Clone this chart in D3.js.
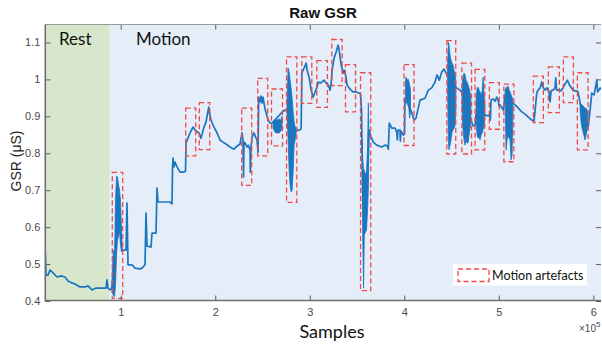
<!DOCTYPE html>
<html>
<head>
<meta charset="utf-8">
<script src="https://cdn.jsdelivr.net/npm/d3@7"></script>
<style>
  body { margin: 0; background: #ffffff; }
  svg { display: block; }
</style>
</head>
<body>
<svg id="chart" width="602" height="348"></svg>
<script>
// ---- data -------------------------------------------------------------
// Sample index where the resting baseline ends and the motion task starts
const restEnd = 88000;

// Raw skin-conductance trace: [sample, GSR in µS]
const trace = [
  [20300,0.530],[20950,0.470],[23060,0.470],[25180,0.484],[28350,0.476],[32590,0.465],
  [36820,0.468],[41050,0.465],[44220,0.454],[48460,0.449],[51630,0.446],[56920,0.438],
  [62210,0.438],[65380,0.441],[69620,0.430],[73850,0.435],[78080,0.435],[82310,0.435],
  [84430,0.435],[85490,0.457],[86550,0.435],[88660,0.430],[89720,0.432],
  [90780,0.440],[92150,0.470],[93420,0.450],[94480,0.550],[95540,0.630],[96600,0.650],
  [97650,0.640],[98710,0.640],[99770,0.600],[100830,0.560],
  [101360,0.538],[105590,0.538],[106640,0.665],[107700,0.498],[111940,0.498],[115110,0.489],
  [120400,0.487],[122520,0.489],[125690,0.498],[126750,0.638],[127810,0.549],[132040,0.546],
  [133100,0.584],[137330,0.584],[138390,0.706],[139440,0.668],[146850,0.668],[152140,0.668],
  [154260,0.663],[154790,0.760],[155310,0.787],[156370,0.763],[157430,0.776],[159550,0.763],
  [162720,0.749],[166950,0.749],[168540,0.752],[169070,0.828],[173300,0.855],[176480,0.871],
  [178590,0.863],[180710,0.858],[182820,0.855],[184940,0.841],[188110,0.871],[190230,0.885],
  [193090,0.925],[193930,0.909],[195520,0.890],[198690,0.871],[201860,0.855],[205040,0.836],
  [208210,0.830],[211390,0.825],[215620,0.817],[219850,0.811],[221970,0.817],[226200,0.825],
  [228320,0.855],[229370,0.836],[229900,0.736],[230430,0.830],[231490,0.828],[233610,0.817],
  [234980,0.822],[236780,0.809],[237100,0.749],[237840,0.817],[238900,0.844],[241020,0.855],
  [243140,0.841],[244190,0.836],[245250,0.803],[245990,0.952],[247370,0.939],[248430,0.955],
  [249490,0.936],[250540,0.952],[251920,0.931],[252980,0.917],[254460,0.904],[255830,0.890],
  [257950,0.882],[260060,0.882],
  [271180,0.912],[273830,0.917],[275950,0.914],
  [286080,0.860],[287660,0.863],[289780,0.863],[290840,0.868],[291580,1.017],[294020,1.031],
  [296130,1.044],[297190,1.025],[299310,1.006],[301420,0.971],[303540,0.952],[305660,0.966],
  [307780,0.979],[308840,0.993],[310960,0.990],[313070,0.993],[315190,0.998],[317310,0.990],
  [319430,0.985],[321540,0.971],[322600,0.990],[323660,1.025],[325780,1.058],[327890,1.074],
  [330010,1.093],[331070,1.079],[332130,1.058],[333190,1.039],[335310,1.017],[336370,1.025],
  [338350,1.006],[339410,0.985],[341530,0.977],[343640,0.971],[345760,0.966],[348930,0.966],
  [352100,0.963],[353690,0.960],[354750,0.917],[355280,0.809],
  [356020,0.700],[356870,0.650],[357710,0.660],[358980,0.660],[360040,0.670],[361100,0.720],
  [361950,0.800],
  [362690,0.863],[364810,0.844],[367240,0.830],[370840,0.822],[376130,0.817],[379610,0.822],
  [382040,0.820],[383100,0.811],[384160,0.882],[386700,0.868],[390190,0.868],[391990,0.858],
  [392630,0.836],[393370,0.863],[395480,0.863],[395800,0.833],[396540,0.860],[398970,0.849],
  [400250,0.852],[400770,0.949],
  [407650,0.912],[410290,0.890],[412410,0.895],[416640,0.944],[421930,0.949],[425420,0.971],
  [429020,0.977],[432510,0.993],[434630,1.012],[437060,0.998],[439600,1.020],[442030,1.028],
  [444150,1.017],[445520,1.012],
  [455270,0.977],[458980,0.971],[460560,0.966],
  [470620,0.890],[472740,0.874],[474860,0.876],[475920,0.905],
  [485450,0.904],[488940,0.901],[490200,0.906],[491050,0.890],[491790,0.944],[493900,0.947],
  [496020,0.941],[497820,0.952],[499200,0.944],[500260,0.928],[501320,0.931],[504810,0.917],
  [506600,0.958],
  [516140,0.933],[517200,0.931],[520690,0.922],[524290,0.912],[527780,0.906],[531230,0.898],
  [534840,0.890],[537270,0.887],[540130,0.963],[541510,0.971],[543620,0.977],[545420,0.993],
  [546800,0.979],[548910,0.971],[551030,0.977],[553140,0.966],[554200,0.939],[555260,0.969],
  [557370,0.971],[559490,0.977],[560230,1.004],[561080,0.971],[563720,0.971],[565840,0.969],
  [567960,0.977],[570080,0.987],[572510,0.998],[574310,0.987],[576430,0.979],[578540,0.971],
  [580660,0.969],[582780,0.969],[583840,0.966],[585960,0.936],
  [594430,0.868],[596550,0.917],[598350,0.963],[600790,0.958],[603650,0.998],[604490,0.966],
  [607130,0.977],[609240,0.971]
];

// Fast oscillation during movement, summarised as min/max envelopes: [sample, min, max]
const burstStart = [
  [90780,0.424,0.457],[92150,0.416,0.538],[93420,0.411,0.506],[94480,0.443,0.673],
  [95540,0.525,0.738],[96600,0.565,0.736],[97650,0.576,0.714],[98710,0.587,0.700],
  [99770,0.552,0.673],[100830,0.533,0.592]
];
const burstA = [
  [261120,0.868,0.887],[263240,0.857,0.890],[265350,0.855,0.890],[267470,0.855,0.893],
  [269590,0.860,0.890],[270650,0.874,0.901]
];
const burstB = [
  [275950,0.904,0.944],[277080,0.836,1.031],[278140,0.755,1.020],[279200,0.714,0.998],
  [280250,0.695,0.977],[281310,0.700,0.949],[282370,0.749,0.912],[283430,0.822,0.885],
  [284490,0.836,0.868],[285550,0.852,0.866]
];
const burstC = [
  [355280,0.741,0.836],[356020,0.579,0.782],[356870,0.435,0.755],[357710,0.579,0.755],
  [358980,0.587,0.741],[360040,0.592,0.749],[361100,0.646,0.809],[361950,0.700,0.936],
  [362480,0.836,0.876]
];
const burstD = [
  [401300,0.936,0.998],[401830,0.944,1.006],[402890,0.936,0.998],[403950,0.944,1.001],
  [405010,0.917,0.993],[405540,0.895,0.985],[406590,0.912,0.971]
];
const burstE = [
  [445740,0.998,1.025],[446580,0.836,1.101],[447320,0.809,1.093],[448380,0.822,1.066],
  [449440,0.836,1.052],[450500,0.857,1.044],[451560,0.863,1.039],[452620,0.868,1.025],
  [453680,0.876,1.012],[454530,0.917,0.993]
];
const burstF = [
  [461090,0.917,0.985],[462150,0.863,1.004],[463210,0.836,1.017],[464270,0.822,1.012],
  [465330,0.836,0.998],[466390,0.828,0.993],[467450,0.828,0.985],[468510,0.849,0.977],
  [469570,0.868,0.966],[470410,0.885,0.944]
];
const burstG = [
  [475920,0.890,0.944],[476970,0.849,0.977],[478030,0.841,0.979],[479090,0.844,0.971],
  [480150,0.836,0.966],[481210,0.849,0.958],[482270,0.855,0.966],[483330,0.863,1.006],
  [484390,0.876,0.958],[485240,0.895,0.931]
];
const burstH = [
  [506600,0.944,0.971],[507660,0.809,0.977],[508720,0.836,0.979],[509780,0.849,0.982],
  [510840,0.841,0.971],[511900,0.836,0.966],[512960,0.782,0.958],[514020,0.795,0.952],
  [514870,0.904,0.944]
];
const burstI = [
  [585960,0.917,0.936],[587020,0.885,0.933],[588080,0.868,0.931],[589130,0.857,0.928],
  [590190,0.847,0.925],[591250,0.836,0.922],[592310,0.849,0.922],[593370,0.863,0.917],
  [594220,0.868,0.912]
];
const bursts = [burstStart, burstA, burstB, burstC, burstD, burstE, burstF, burstG, burstH, burstI];

// Segments flagged as motion artefacts: [first sample, last sample, min µS, max µS]
const artefacts = [
  [91090,102100,0.407,0.748],[168750,179330,0.793,0.922],[183140,194150,0.810,0.937],
  [228000,238580,0.713,0.922],[244930,255520,0.793,1.003],[259530,271180,0.820,0.974],
  [275420,286290,0.667,1.061],[291580,302160,0.935,1.061],[307460,318690,0.924,1.051],
  [323340,334250,0.983,1.108],[337750,348410,0.912,1.040],[353690,364490,0.428,1.018],
  [399720,410290,0.821,1.040],[445000,454420,0.798,1.105],[460880,471150,0.798,1.044],
  [474860,485130,0.809,1.027],[489990,500470,0.865,0.991],[505340,515930,0.777,0.987],
  [536530,547120,0.883,1.009],[552400,564040,0.910,1.034],[568280,578860,0.937,1.061],
  [583090,594430,0.809,1.018]
];

const xTicks = [100000, 200000, 300000, 400000, 500000, 600000];
const yTicks = [0.4, 0.5, 0.6, 0.7, 0.8, 0.9, 1.0, 1.1];
const xDomain = [20200, 608100];
const yDomain = [0.4, 1.15];

// ---- layout -----------------------------------------------------------
const plot = { left: 45.3, right: 601, top: 24.5, bottom: 300.5 };
const lineColor = "#1b76c0";
const artefactColor = "#f0484a";
const tickFont = "'Liberation Sans', Arial, sans-serif";
const labelFont = "Lato, 'Open Sans', sans-serif";

const svg = d3.select("#chart");
const x = d3.scaleLinear().domain(xDomain).range([plot.left, plot.right]);
const y = d3.scaleLinear().domain(yDomain).range([301, 24]);

svg.append("defs").append("clipPath").attr("id", "plot-clip")
  .append("rect")
  .attr("x", plot.left).attr("y", plot.top)
  .attr("width", plot.right - plot.left).attr("height", plot.bottom - plot.top);

// Phase shading: motion everywhere, rest baseline at the start
svg.append("rect")
  .attr("x", plot.left).attr("y", plot.top)
  .attr("width", plot.right - plot.left).attr("height", plot.bottom - plot.top)
  .attr("fill", "#e4edf8");
svg.append("rect")
  .attr("x", plot.left).attr("y", plot.top)
  .attr("width", x(restEnd) - plot.left).attr("height", plot.bottom - plot.top)
  .attr("fill", "#d7e7cb");

const g = svg.append("g").attr("clip-path", "url(#plot-clip)");

// Envelopes of the fast oscillation
const band = d3.area()
  .x(d => x(d[0]))
  .y0(d => y(d[1]))
  .y1(d => y(d[2]))
  .curve(d3.curveLinear);
g.selectAll("path.burst").data(bursts).join("path")
  .attr("class", "burst")
  .attr("d", band)
  .attr("fill", lineColor)
  .attr("stroke", lineColor)
  .attr("stroke-width", 0.8)
  .attr("stroke-linejoin", "round");

// Main trace
const line = d3.line().x(d => x(d[0])).y(d => y(d[1]));
g.append("path")
  .datum(trace)
  .attr("d", line)
  .attr("fill", "none")
  .attr("stroke", lineColor)
  .attr("stroke-width", 1.7)
  .attr("stroke-linejoin", "round");

// Dashed artefact boxes
g.selectAll("rect.artefact").data(artefacts).join("rect")
  .attr("class", "artefact")
  .attr("x", d => x(d[0]))
  .attr("y", d => y(d[3]))
  .attr("width", d => x(d[1]) - x(d[0]))
  .attr("height", d => y(d[2]) - y(d[3]))
  .attr("fill", "none")
  .attr("stroke", artefactColor)
  .attr("stroke-width", 1.3)
  .attr("stroke-dasharray", "5,3");

// ---- axes (ticks point inwards on all four sides) ----------------------
const fmtY = d => String(+d.toFixed(1));
const styleAxis = sel => {
  sel.selectAll(".tick line").attr("stroke", "#5a5a5a").attr("stroke-width", 1);
  sel.selectAll(".tick text").attr("fill", "#4a4a4a")
    .style("font-family", tickFont).style("font-size", "11px");
  sel.select(".domain").remove();
};

svg.append("g")
  .attr("transform", `translate(0,${plot.bottom})`)
  .call(d3.axisBottom(x).tickValues(xTicks).tickSize(-5).tickSizeOuter(0)
    .tickPadding(8).tickFormat(d => d / 1e5))
  .call(styleAxis);
svg.append("g")
  .attr("transform", `translate(0,${plot.top})`)
  .call(d3.axisTop(x).tickValues(xTicks).tickSize(-5).tickSizeOuter(0).tickFormat(""))
  .call(styleAxis);
svg.append("g")
  .attr("transform", `translate(${plot.left},0)`)
  .call(d3.axisLeft(y).tickValues(yTicks).tickSize(-5).tickSizeOuter(0)
    .tickPadding(5).tickFormat(fmtY))
  .call(styleAxis);
svg.append("g")
  .attr("transform", `translate(${plot.right},0)`)
  .call(d3.axisRight(y).tickValues(yTicks).tickSize(-5).tickSizeOuter(0).tickFormat(""))
  .call(styleAxis);

// Frame
svg.append("path")
  .attr("d", `M${plot.left},${plot.top}H${plot.right}`)
  .attr("stroke", "#9a9a9a").attr("stroke-width", 1);
svg.append("path")
  .attr("d", `M${plot.left},${plot.top}V${plot.bottom}H${plot.right}`)
  .attr("fill", "none").attr("stroke", "#707070").attr("stroke-width", 1.6);

// Exponent of the x axis
const expo = svg.append("text")
  .attr("x", 579).attr("y", 332)
  .attr("fill", "#4a4a4a")
  .style("font-family", tickFont).style("font-size", "10px");
expo.append("tspan").text("\u00d710");
expo.append("tspan").attr("dy", -5).style("font-size", "8px").text("5");

// ---- titles and labels -------------------------------------------------
svg.append("text")
  .attr("x", 323).attr("y", 18)
  .attr("text-anchor", "middle")
  .attr("fill", "#111")
  .style("font-family", tickFont).style("font-weight", "bold").style("font-size", "15px")
  .text("Raw GSR");

svg.append("text")
  .attr("x", 332).attr("y", 338)
  .attr("text-anchor", "middle")
  .attr("fill", "#111")
  .style("font-family", labelFont).style("font-size", "18px")
  .text("Samples");

svg.append("text")
  .attr("transform", "translate(21,161) rotate(-90)")
  .attr("text-anchor", "middle")
  .attr("fill", "#222")
  .style("font-family", tickFont).style("font-size", "14px")
  .text("GSR (\u03bcS)");

svg.append("text")
  .attr("x", 59).attr("y", 45)
  .attr("fill", "#111")
  .style("font-family", labelFont).style("font-size", "17px")
  .text("Rest");
svg.append("text")
  .attr("x", 136).attr("y", 45)
  .attr("fill", "#111")
  .style("font-family", labelFont).style("font-size", "17px")
  .text("Motion");

// ---- legend ------------------------------------------------------------
const legend = svg.append("g");
legend.append("rect")
  .attr("x", 453).attr("y", 264)
  .attr("width", 134).attr("height", 21.5)
  .attr("fill", "#ffffff");
legend.append("rect")
  .attr("x", 458).attr("y", 269)
  .attr("width", 31).attr("height", 12.5)
  .attr("fill", "none")
  .attr("stroke", artefactColor).attr("stroke-width", 1.3)
  .attr("stroke-dasharray", "5,3");
legend.append("text")
  .attr("x", 492).attr("y", 279.5)
  .attr("fill", "#111")
  .style("font-family", labelFont).style("font-size", "12.5px")
  .text("Motion artefacts");
</script>
</body>
</html>
